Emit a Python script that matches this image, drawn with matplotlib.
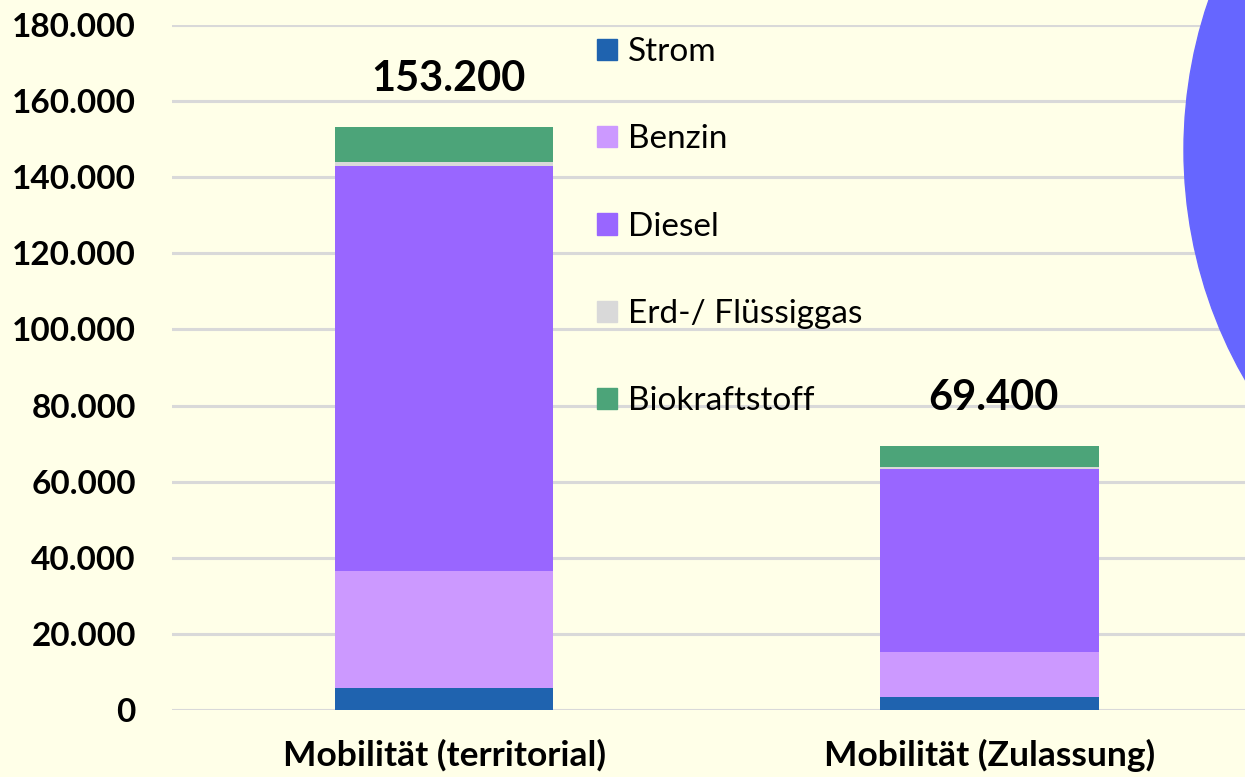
import matplotlib
matplotlib.use("Agg")
import matplotlib.pyplot as plt
from matplotlib.patches import Ellipse, Patch

categories = ["Mobilität (territorial)", "Mobilität (Zulassung)"]
series = ["Strom", "Benzin", "Diesel", "Erd-/ Flüssiggas", "Biokraftstoff"]
strom = [5700, 3400]
benzin = [30700, 11900]
diesel = [106600, 48100]
gas = [1100, 400]
bio = [9100, 5600]
totals = [153200, 69400]
yticks = [0, 20000, 40000, 60000, 80000, 100000, 120000, 140000, 160000, 180000]
colors = ["#1F63AF", "#CC99FF", "#9966FF", "#D9D9D9", "#4CA479"]

bg = "#FFFFE8"
plt.rcParams['font.family'] = ['Lato', 'DejaVu Sans']

fig = plt.figure(figsize=(12.45, 7.77), dpi=100, facecolor=bg)
ax = fig.add_axes([172/1245, 1-710/777, 1090/1245, 685/777])
ax.set_facecolor(bg)

x = list(range(len(categories)))
bottom = [0]*len(categories)
for vals, name, c in zip([strom, benzin, diesel, gas, bio], series, colors):
    ax.bar(x, vals, bottom=bottom, width=0.4, color=c, label=name, zorder=3)
    bottom = [b + v for b, v in zip(bottom, vals)]

def fmt(v):
    return f"{v:,}".replace(",", ".")

for xi, t in zip(x, totals):
    ax.annotate(fmt(t), (xi, t), xytext=(3, 21), textcoords="offset points",
                ha="center", va="bottom", fontsize=30, fontweight="bold")

ax.set_xlim(-0.5, 1.5)
ax.set_ylim(0, 180000)
ax.set_yticks(yticks)
ax.set_yticklabels([fmt(v) for v in yticks], fontsize=24, fontweight="bold")
ax.set_xticks(x)
ax.set_xticklabels(categories, fontsize=25.5, fontweight="bold")
ax.tick_params(axis="both", length=0)
ax.tick_params(axis="y", pad=26)
ax.tick_params(axis="x", pad=21)
ax.grid(axis="y", color="#D9D9D9", linewidth=2.2, zorder=0)
for s in ax.spines.values():
    s.set_visible(False)

handles = [Patch(color=c) for c in colors]
leg = fig.legend(handles, series, loc="upper left", bbox_to_anchor=(597/1245, 1-37/777),
                 frameon=False, fontsize=24, labelspacing=1.72,
                 borderaxespad=0, borderpad=0,
                 handlelength=0.6, handleheight=0.6, handletextpad=0.33)

circ = Ellipse((1600/1245, 1-150/777), width=2*416/1245, height=2*440/777,
               transform=fig.transFigure, color="#6666FF", zorder=5)
fig.patches.append(circ)

fig.savefig("out.png", dpi=100, facecolor=bg)
